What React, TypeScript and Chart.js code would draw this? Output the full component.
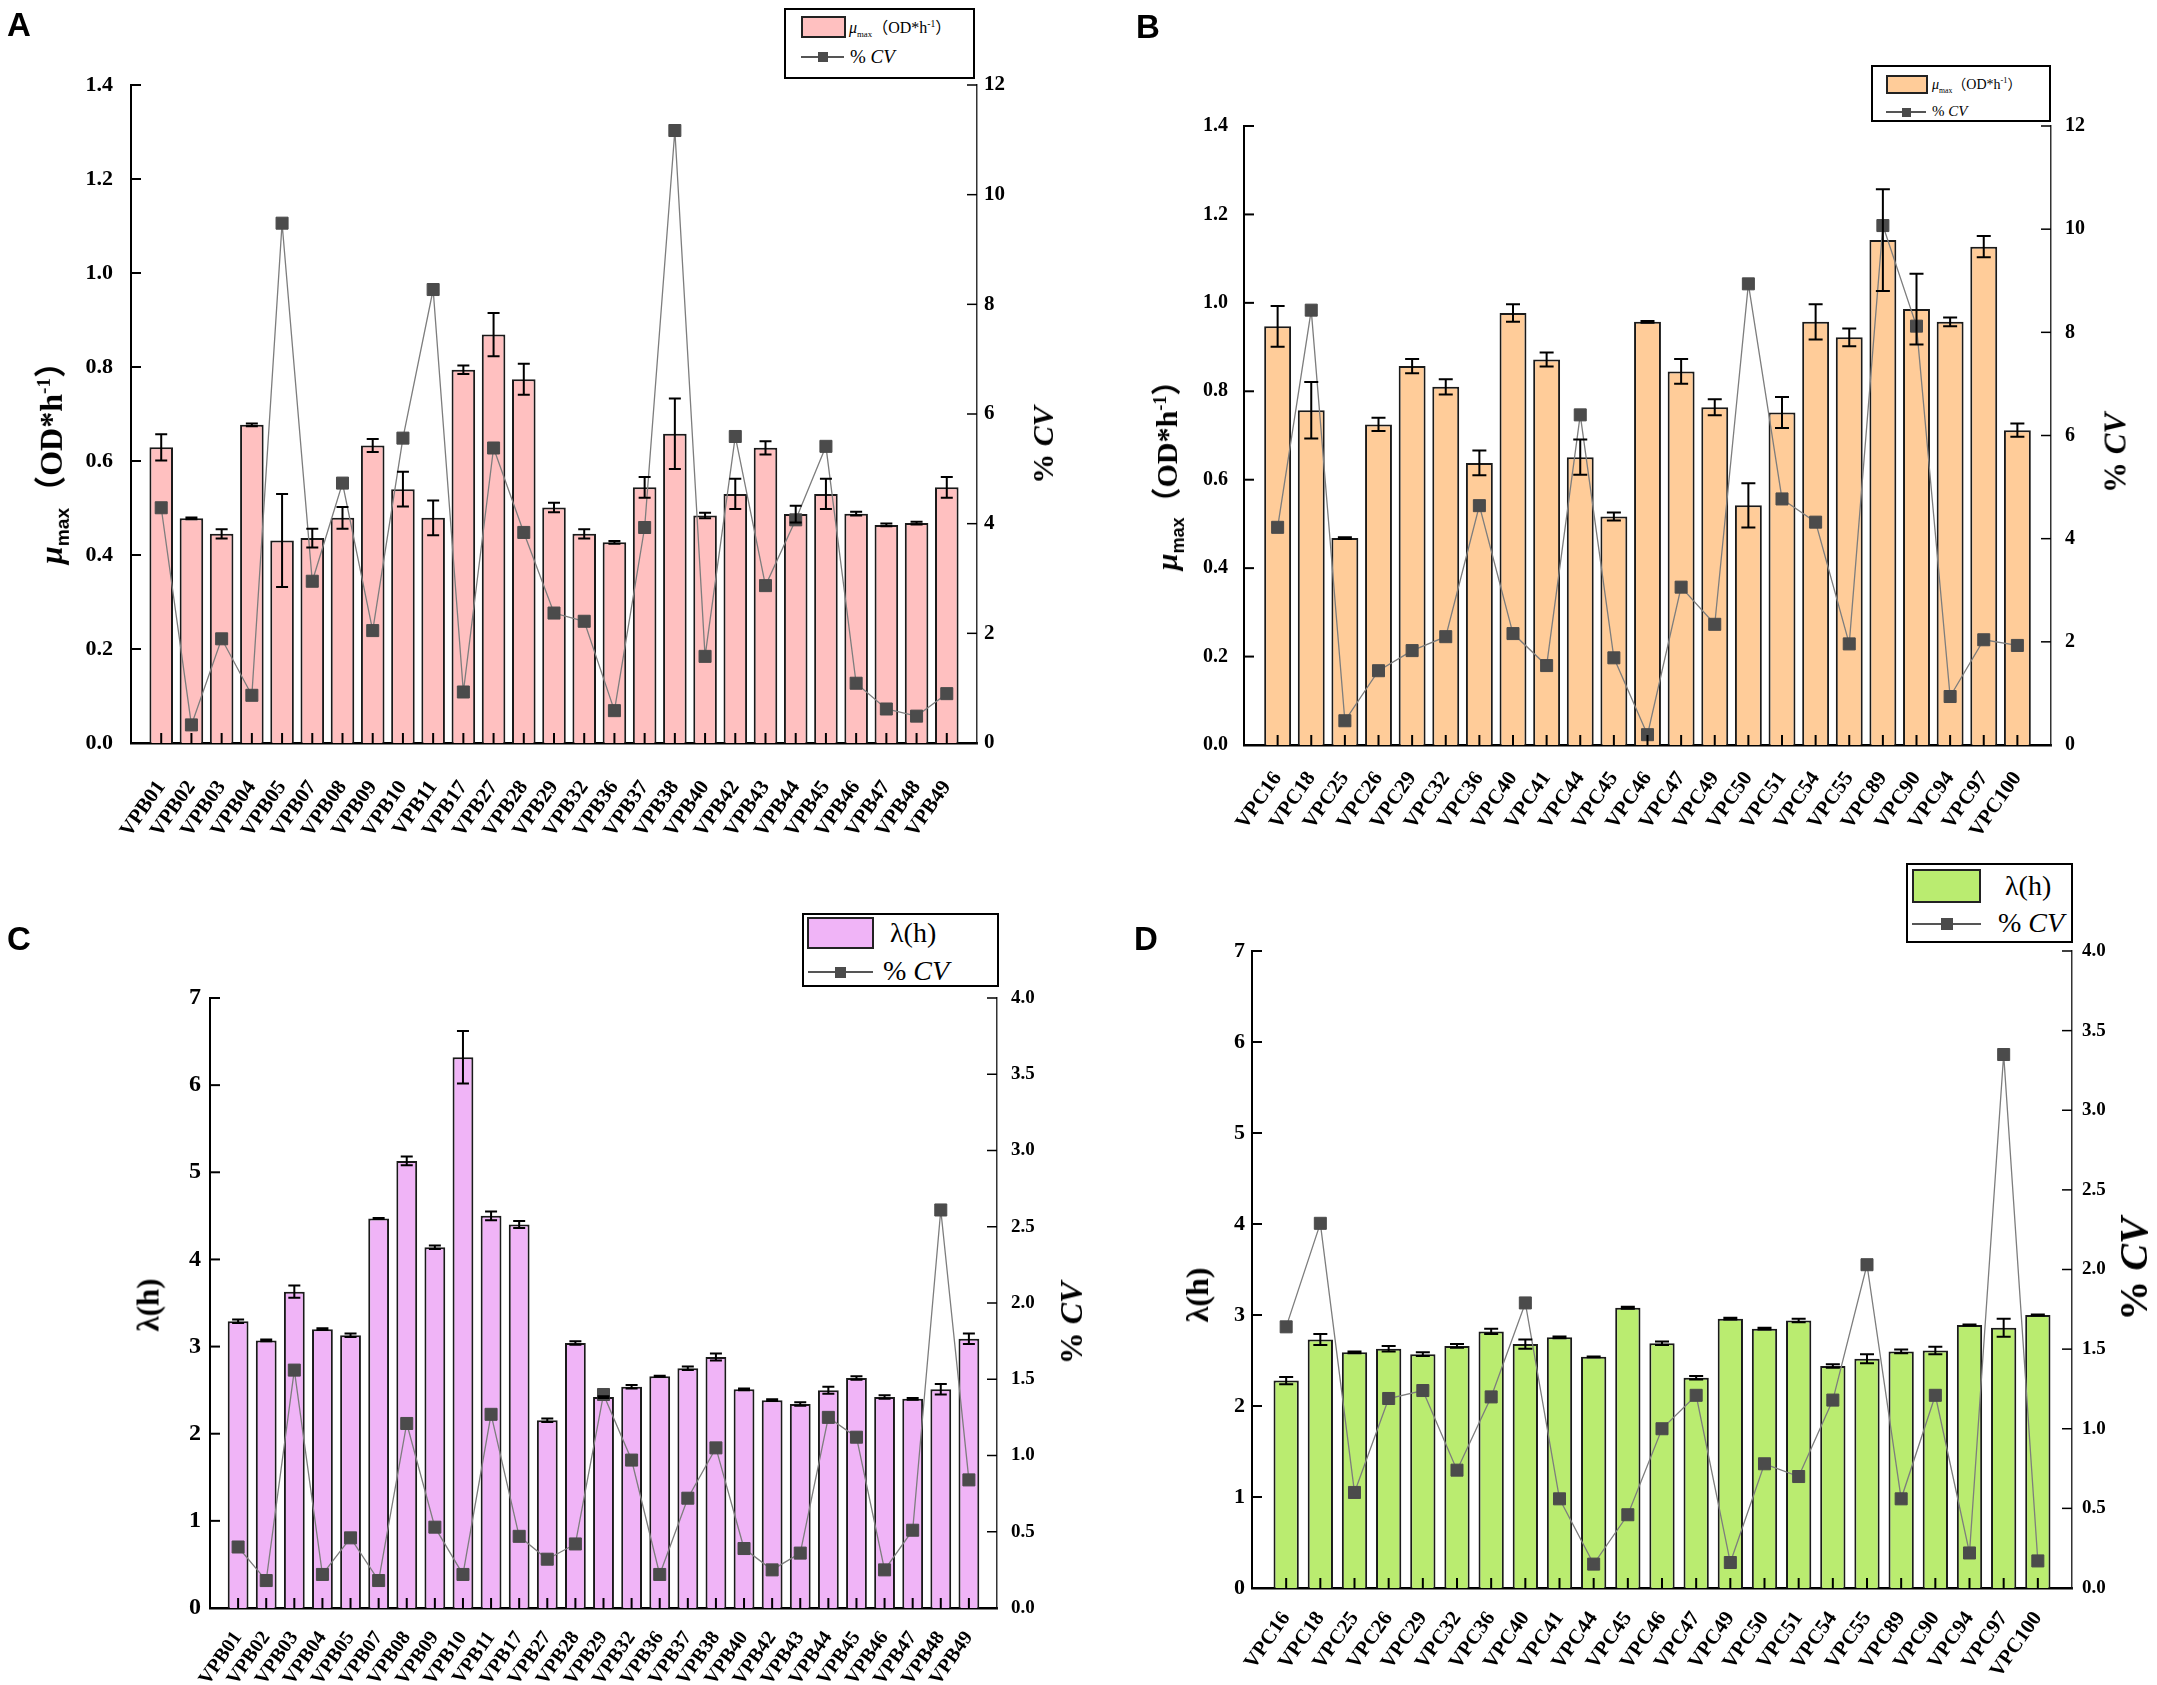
import React, { useEffect, useRef } from 'react';
import { Chart, registerables } from 'chart.js';

Chart.register(...registerables);

// ---------- data ----------
const vpbStrains = ['VPB01', 'VPB02', 'VPB03', 'VPB04', 'VPB05', 'VPB07', 'VPB08', 'VPB09', 'VPB10', 'VPB11', 'VPB17', 'VPB27', 'VPB28', 'VPB29', 'VPB32', 'VPB36', 'VPB37', 'VPB38', 'VPB40', 'VPB42', 'VPB43', 'VPB44', 'VPB45', 'VPB46', 'VPB47', 'VPB48', 'VPB49'];
const vpcStrains = ['VPC16', 'VPC18', 'VPC25', 'VPC26', 'VPC29', 'VPC32', 'VPC36', 'VPC40', 'VPC41', 'VPC44', 'VPC45', 'VPC46', 'VPC47', 'VPC49', 'VPC50', 'VPC51', 'VPC54', 'VPC55', 'VPC89', 'VPC90', 'VPC94', 'VPC97', 'VPC100'];

// Panel A: mu max of VPB strains
const muVPB = [0.629, 0.478, 0.445, 0.677, 0.431, 0.436, 0.479, 0.633, 0.54, 0.479, 0.794, 0.869, 0.774, 0.501, 0.445, 0.427, 0.544, 0.658, 0.484, 0.53, 0.628, 0.487, 0.53, 0.488, 0.464, 0.468, 0.544];
const muVPBErr = [0.028, 0.002, 0.01, 0.003, 0.099, 0.02, 0.023, 0.014, 0.037, 0.037, 0.009, 0.046, 0.033, 0.01, 0.01, 0.003, 0.022, 0.075, 0.006, 0.032, 0.014, 0.018, 0.032, 0.004, 0.003, 0.003, 0.022];
const cvMuVPB = [4.29, 0.33, 1.9, 0.87, 9.48, 2.95, 4.74, 2.05, 5.56, 8.27, 0.93, 5.38, 3.84, 2.37, 2.22, 0.59, 3.93, 11.17, 1.58, 5.59, 2.87, 4.07, 5.41, 1.09, 0.62, 0.49, 0.9];

// Panel B: mu max of VPC strains
const muVPC = [0.947, 0.757, 0.468, 0.725, 0.857, 0.81, 0.638, 0.977, 0.872, 0.651, 0.517, 0.957, 0.845, 0.764, 0.542, 0.752, 0.957, 0.922, 1.142, 0.986, 0.957, 1.127, 0.712];
const muVPCErr = [0.046, 0.064, 0.002, 0.015, 0.016, 0.017, 0.028, 0.02, 0.016, 0.04, 0.009, 0.002, 0.028, 0.018, 0.05, 0.035, 0.04, 0.02, 0.115, 0.08, 0.01, 0.024, 0.015];
const cvMuVPC = [4.22, 8.43, 0.47, 1.44, 1.83, 2.1, 4.64, 2.16, 1.54, 6.4, 1.69, 0.2, 3.06, 2.34, 8.94, 4.77, 4.32, 1.96, 10.07, 8.12, 0.94, 2.04, 1.93];

// Panel C: lag time of VPB strains
const lagVPB = [3.29, 3.07, 3.63, 3.2, 3.13, 4.47, 5.13, 4.14, 6.32, 4.5, 4.4, 2.155, 3.04, 2.42, 2.54, 2.66, 2.75, 2.88, 2.51, 2.385, 2.34, 2.5, 2.64, 2.42, 2.4, 2.51, 3.09];
const lagVPBErr = [0.02, 0.01, 0.07, 0.01, 0.02, 0.005, 0.05, 0.02, 0.3, 0.05, 0.04, 0.02, 0.02, 0.01, 0.02, 0.005, 0.02, 0.04, 0.01, 0.01, 0.02, 0.04, 0.02, 0.02, 0.01, 0.06, 0.06];
const cvLagVPB = [0.4, 0.18, 1.56, 0.22, 0.46, 0.18, 1.21, 0.53, 0.22, 1.27, 0.47, 0.32, 0.42, 1.4, 0.97, 0.22, 0.72, 1.05, 0.39, 0.25, 0.36, 1.25, 1.12, 0.25, 0.51, 2.61, 0.84];

// Panel D: lag time of VPC strains
const lagVPC = [2.28, 2.73, 2.59, 2.63, 2.57, 2.66, 2.82, 2.68, 2.755, 2.54, 3.08, 2.69, 2.31, 2.96, 2.85, 2.94, 2.44, 2.52, 2.6, 2.61, 2.89, 2.86, 3.0];
const lagVPCErr = [0.04, 0.06, 0.01, 0.03, 0.02, 0.02, 0.03, 0.05, 0.01, 0.005, 0.01, 0.02, 0.02, 0.01, 0.01, 0.02, 0.02, 0.05, 0.02, 0.04, 0.005, 0.1, 0.005];
const cvLagVPC = [1.64, 2.29, 0.6, 1.19, 1.24, 0.74, 1.2, 1.79, 0.56, 0.15, 0.46, 1.0, 1.21, 0.16, 0.78, 0.7, 1.18, 2.03, 0.56, 1.21, 0.22, 3.35, 0.17];

// axis ranges [min, max, step]
const muAxis = [0, 1.4, 0.2];
const cvMuAxis = [0, 12, 2];
const lagAxis = [0, 7, 1];
const cvLagAxis = [0, 4, 0.5];

const SERIF = "'Liberation Serif', 'Noto Sans CJK SC', serif";

// ---------- plugin: inward ticks + error bars ----------
const decorPlugin = {
  id: 'decor',
  afterDatasetsDraw(chart: any, _args: any, opts: any) {
    const { ctx, chartArea } = chart;
    const xs = chart.scales.x;
    const ys = chart.scales.y;
    const y1s = chart.scales.y1;
    const tick = opts.tick || 10;
    ctx.save();
    ctx.strokeStyle = '#000';
    ctx.lineCap = 'butt';
    ctx.lineWidth = 2;
    ys.ticks.forEach((t: any) => {
      const py = ys.getPixelForValue(t.value);
      ctx.beginPath();
      ctx.moveTo(chartArea.left, py);
      ctx.lineTo(chartArea.left + tick, py);
      ctx.stroke();
    });
    ctx.lineWidth = 1.5;
    y1s.ticks.forEach((t: any) => {
      const py = y1s.getPixelForValue(t.value);
      ctx.beginPath();
      ctx.moveTo(chartArea.right, py);
      ctx.lineTo(chartArea.right - tick, py);
      ctx.stroke();
    });
    ctx.lineWidth = 2;
    (opts.values as number[]).forEach((_v, i) => {
      const px = xs.getPixelForValue(i);
      ctx.beginPath();
      ctx.moveTo(px, chartArea.bottom);
      ctx.lineTo(px, chartArea.bottom - tick);
      ctx.stroke();
    });
    ctx.lineWidth = 2;
    (opts.values as number[]).forEach((v, i) => {
      const e = opts.errors[i];
      if (!e) return;
      const px = xs.getPixelForValue(i);
      const pt = ys.getPixelForValue(v + e);
      const pb = ys.getPixelForValue(v - e);
      const c = opts.cap;
      ctx.beginPath();
      ctx.moveTo(px, pt);
      ctx.lineTo(px, pb);
      ctx.moveTo(px - c, pt);
      ctx.lineTo(px + c, pt);
      ctx.moveTo(px - c, pb);
      ctx.lineTo(px + c, pb);
      ctx.stroke();
    });
    ctx.restore();
  },
};

type PanelProps = {
  left: number; top: number; width: number; height: number;
  area: { l: number; r: number; t: number; b: number };
  labels: string[]; values: number[]; errors: number[]; cv: number[];
  color: string; barLabel: string;
  yAxis: number[]; y1Axis: number[]; yDigits: number; y1Digits: number;
  barPct: number; yFont: number; y1Font: number; xFont: number;
  yPad: number; y1Pad: number; xPad: number; rot: number; cap: number;
};

function Panel(p: PanelProps) {
  const ref = useRef<HTMLCanvasElement | null>(null);
  useEffect(() => {
    if (!ref.current) return;
    const n = p.labels.length;
    const tickFont = (size: number) => ({ family: SERIF, weight: 'bold' as const, size });
    const chart = new Chart(ref.current, {
      type: 'bar',
      data: {
        datasets: [
          {
            type: 'line',
            label: '% CV',
            data: p.cv.map((v, i) => ({ x: i, y: v })),
            yAxisID: 'y1',
            borderColor: '#7d7d7d',
            borderWidth: 1.3,
            pointStyle: 'rect',
            pointRadius: 8.5,
            pointBackgroundColor: '#4b4b4b',
            pointBorderColor: '#4b4b4b',
            pointBorderWidth: 1,
            tension: 0,
            order: 0,
          } as any,
          {
            type: 'bar',
            label: p.barLabel,
            data: p.values.map((v, i) => ({ x: i, y: v })),
            yAxisID: 'y',
            backgroundColor: p.color,
            borderColor: '#1a1a1a',
            borderWidth: 2,
            categoryPercentage: 1,
            barPercentage: p.barPct,
            order: 1,
          } as any,
        ],
      },
      options: {
        responsive: false,
        maintainAspectRatio: false,
        animation: false,
        layout: { padding: { left: 0, right: 0, top: p.area.t, bottom: 0 } },
        plugins: {
          legend: { display: false },
          tooltip: { enabled: false },
          decor: { values: p.values, errors: p.errors, tick: 10, cap: p.cap },
        } as any,
        scales: {
          x: {
            type: 'linear',
            min: -1,
            max: n,
            offset: false,
            grid: { display: false, drawTicks: false, offset: false },
            border: { display: true, color: '#000', width: 2.5 },
            ticks: {
              stepSize: 1,
              autoSkip: false,
              minRotation: p.rot,
              maxRotation: p.rot,
              padding: p.xPad,
              color: '#000',
              font: tickFont(p.xFont),
              callback: (v: any) => {
                const k = Number(v);
                return Number.isInteger(k) && k >= 0 && k < n ? p.labels[k] : '';
              },
            },
            afterFit: (s: any) => { s.height = p.height - p.area.b; },
          },
          y: {
            type: 'linear',
            position: 'left',
            min: p.yAxis[0],
            max: p.yAxis[1],
            grid: { display: false, drawTicks: false },
            border: { display: true, color: '#000', width: 2 },
            ticks: {
              stepSize: p.yAxis[2],
              padding: p.yPad,
              color: '#000',
              font: tickFont(p.yFont),
              callback: (v: any) => Number(v).toFixed(p.yDigits),
            },
            afterFit: (s: any) => { s.width = p.area.l; },
          },
          y1: {
            type: 'linear',
            position: 'right',
            min: p.y1Axis[0],
            max: p.y1Axis[1],
            grid: { display: false, drawTicks: false },
            border: { display: true, color: '#333', width: 1.5 },
            ticks: {
              stepSize: p.y1Axis[2],
              padding: p.y1Pad,
              color: '#000',
              font: tickFont(p.y1Font),
              callback: (v: any) => Number(v).toFixed(p.y1Digits),
            },
            afterFit: (s: any) => { s.width = p.width - p.area.r; },
          },
        } as any,
      },
      plugins: [decorPlugin as any],
    });
    return () => chart.destroy();
  }, []);
  return (
    <canvas
      ref={ref}
      width={p.width}
      height={p.height}
      style={{ position: 'absolute', left: p.left, top: p.top, width: p.width, height: p.height }}
    />
  );
}

function VTitle({ cx, cy, size, children }: { cx: number; cy: number; size: number; children: any }) {
  return (
    <div
      style={{
        position: 'absolute', left: cx, top: cy, transform: 'translate(-50%,-50%) rotate(-90deg)',
        whiteSpace: 'nowrap', fontFamily: SERIF, fontWeight: 'bold', fontSize: size, lineHeight: 1, color: '#000',
      }}
    >
      {children}
    </div>
  );
}

function Letter({ x, y, ch }: { x: number; y: number; ch: string }) {
  return (
    <div style={{ position: 'absolute', left: x, top: y, fontFamily: "'Liberation Sans', Arial, sans-serif", fontWeight: 'bold', fontSize: 33, lineHeight: 1, color: '#000' }}>
      {ch}
    </div>
  );
}

type LegendProps = {
  x: number; y: number; w: number; h: number; color: string;
  sw: number[]; t1: { x: number; y: number; size: number; content: any };
  line: number[]; mk: number; t2: { x: number; y: number; size: number };
};

function Legend(l: LegendProps) {
  return (
    <div style={{ position: 'absolute', left: l.x, top: l.y, width: l.w, height: l.h, border: '2px solid #000', boxSizing: 'border-box', background: '#fff', overflow: 'hidden' }}>
      <div style={{ position: 'absolute', left: l.sw[0], top: l.sw[1], width: l.sw[2], height: l.sw[3], background: l.color, border: '2px solid #222', boxSizing: 'border-box' }} />
      <div style={{ position: 'absolute', left: l.t1.x, top: l.t1.y - l.t1.size * 0.55, fontFamily: SERIF, fontSize: l.t1.size, lineHeight: 1.1, whiteSpace: 'nowrap', color: '#000' }}>{l.t1.content}</div>
      <div style={{ position: 'absolute', left: l.line[0], top: l.line[2] - 1, width: l.line[1] - l.line[0], height: 2, background: '#555' }} />
      <div style={{ position: 'absolute', left: (l.line[0] + l.line[1]) / 2 - l.mk / 2, top: l.line[2] - l.mk / 2, width: l.mk, height: l.mk, background: '#4b4b4b' }} />
      <div style={{ position: 'absolute', left: l.t2.x, top: l.t2.y - l.t2.size * 0.55, fontFamily: SERIF, fontSize: l.t2.size, lineHeight: 1.1, whiteSpace: 'nowrap', color: '#000' }}>% <i>CV</i></div>
    </div>
  );
}

const muTitle = (
  <span>
    <i>μ</i><sub style={{ fontSize: '0.6em', fontFamily: "'Liberation Sans', sans-serif" }}>max</sub>（OD*h<sup style={{ fontSize: '0.6em' }}>-1</sup>）
  </span>
);
const muLegend = (
  <span>
    <i>μ</i><sub style={{ fontSize: '0.55em' }}>max</sub>（OD*h<sup style={{ fontSize: '0.6em' }}>-1</sup>）
  </span>
);
const cvTitle = (<span>% <i>CV</i></span>);

export default function App() {
  return (
    <div style={{ position: 'absolute', left: 0, top: 0, width: 2157, height: 1685, background: '#fff', overflow: 'hidden' }}>
      <Panel
        left={0} top={0} width={1080} height={860}
        area={{ l: 131, r: 977, t: 85, b: 743 }}
        labels={vpbStrains} values={muVPB} errors={muVPBErr} cv={cvMuVPB}
        color="#FFC0C0" barLabel="μmax (OD*h-1)"
        yAxis={muAxis} y1Axis={cvMuAxis} yDigits={1} y1Digits={0}
        barPct={0.78} yFont={22} y1Font={21} xFont={21}
        yPad={18} y1Pad={7} xPad={33} rot={55} cap={6}
      />
      <Panel
        left={1080} top={0} width={1077} height={860}
        area={{ l: 164, r: 971, t: 126, b: 745 }}
        labels={vpcStrains} values={muVPC} errors={muVPCErr} cv={cvMuVPC}
        color="#FFCC99" barLabel="μmax (OD*h-1)"
        yAxis={muAxis} y1Axis={cvMuAxis} yDigits={1} y1Digits={0}
        barPct={0.8} yFont={20} y1Font={20} xFont={21}
        yPad={16} y1Pad={14} xPad={22} rot={55} cap={7}
      />
      <Panel
        left={0} top={860} width={1080} height={825}
        area={{ l: 210, r: 997, t: 138, b: 748 }}
        labels={vpbStrains} values={lagVPB} errors={lagVPBErr} cv={cvLagVPB}
        color="#F0B4F7" barLabel="λ(h)"
        yAxis={lagAxis} y1Axis={cvLagAxis} yDigits={0} y1Digits={1}
        barPct={0.74} yFont={24} y1Font={19} xFont={20}
        yPad={9} y1Pad={14} xPad={19} rot={55} cap={6}
      />
      <Panel
        left={1080} top={860} width={1077} height={825}
        area={{ l: 172, r: 992, t: 91, b: 728 }}
        labels={vpcStrains} values={lagVPC} errors={lagVPCErr} cv={cvLagVPC}
        color="#BAEC70" barLabel="λ(h)"
        yAxis={lagAxis} y1Axis={cvLagAxis} yDigits={0} y1Digits={1}
        barPct={0.74} yFont={22} y1Font={19} xFont={21}
        yPad={7} y1Pad={10} xPad={19} rot={55} cap={7}
      />

      <Letter x={7} y={8} ch="A" />
      <Letter x={1136} y={10} ch="B" />
      <Letter x={7} y={922} ch="C" />
      <Letter x={1134} y={922} ch="D" />

      <VTitle cx={53} cy={455} size={32}>{muTitle}</VTitle>
      <VTitle cx={1043} cy={445} size={30}>{cvTitle}</VTitle>
      <VTitle cx={1169} cy={468} size={30}>{muTitle}</VTitle>
      <VTitle cx={2115} cy={453} size={31}>{cvTitle}</VTitle>
      <VTitle cx={148} cy={1305} size={31}>λ(h)</VTitle>
      <VTitle cx={1071} cy={1323} size={32}>{cvTitle}</VTitle>
      <VTitle cx={1197} cy={1295} size={32}>λ(h)</VTitle>
      <VTitle cx={2134} cy={1269} size={40}>{cvTitle}</VTitle>

      <Legend
        x={784} y={8} w={191} h={71} color="#FFC0C0"
        sw={[15, 6, 45, 22]} t1={{ x: 63, y: 17, size: 16, content: muLegend }}
        line={[15, 58, 47]} mk={10} t2={{ x: 64, y: 47, size: 19 }}
      />
      <Legend
        x={1871} y={65} w={180} h={57} color="#FFCC99"
        sw={[13, 8, 42, 19]} t1={{ x: 59, y: 17, size: 14, content: muLegend }}
        line={[13, 53, 45]} mk={9} t2={{ x: 59, y: 44, size: 15 }}
      />
      <Legend
        x={802} y={913} w={197} h={74} color="#F0B4F7"
        sw={[3, 2, 67, 32]} t1={{ x: 86, y: 18, size: 28, content: 'λ(h)' }}
        line={[4, 69, 57]} mk={11} t2={{ x: 79, y: 56, size: 28 }}
      />
      <Legend
        x={1906} y={863} w={167} h={80} color="#BAEC70"
        sw={[4, 4, 69, 34]} t1={{ x: 97, y: 21, size: 28, content: 'λ(h)' }}
        line={[4, 73, 59]} mk={12} t2={{ x: 90, y: 58, size: 28 }}
      />
    </div>
  );
}
